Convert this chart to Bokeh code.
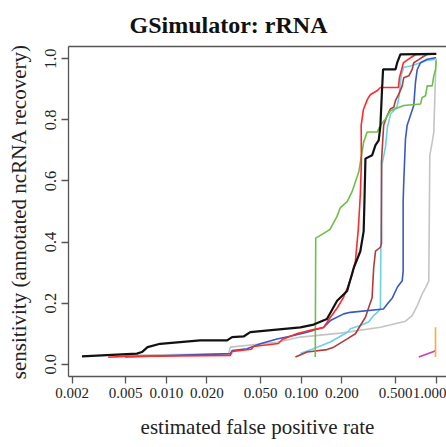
from bokeh.plotting import figure
from bokeh.models import Range1d, FixedTicker, LinearAxis, Title
from bokeh.embed import file_html
from bokeh.resources import INLINE

# ---- data (estimated false positive rate, sensitivity) ----
black_x = [0.00237, 0.00605, 0.00659, 0.00726, 0.0090, 0.0178, 0.0282, 0.0307, 0.0374, 0.0419,
           0.0985, 0.1236, 0.155, 0.1844, 0.2187, 0.245, 0.274, 0.290, 0.294, 0.299, 0.335,
           0.355, 0.375, 0.386, 0.397, 0.404, 0.499, 0.514, 0.543, 1.0]
black_y = [0.026, 0.035, 0.040, 0.056, 0.067, 0.078, 0.078, 0.089, 0.091, 0.105,
           0.121, 0.130, 0.148, 0.208, 0.240, 0.316, 0.370, 0.435, 0.532, 0.673, 0.684,
           0.717, 0.733, 0.781, 0.900, 0.965, 0.965, 0.987, 1.014, 1.016]

red_x = [0.00371, 0.00488, 0.0298, 0.0308, 0.0427, 0.0442, 0.0677, 0.0724, 0.0935, 0.123,
         0.146, 0.164, 0.185, 0.205, 0.220, 0.239, 0.252, 0.265, 0.274, 0.279, 0.278, 0.289,
         0.309, 0.326, 0.367, 0.386, 0.525, 0.534, 0.572, 0.644, 0.702, 1.0]
red_y = [0.023, 0.026, 0.029, 0.042, 0.049, 0.058, 0.068, 0.081, 0.101, 0.114,
         0.120, 0.153, 0.185, 0.218, 0.250, 0.295, 0.338, 0.445, 0.555, 0.662, 0.782, 0.834,
         0.867, 0.883, 0.896, 0.906, 0.906, 0.938, 0.987, 1.003, 1.013, 1.016]

brown_x = [0.0905, 0.1105, 0.155, 0.174, 0.219, 0.252, 0.274, 0.299, 0.316, 0.335, 0.344,
           0.355, 0.386, 0.393, 0.393, 0.408, 0.433, 0.458, 0.485, 0.499, 0.528, 0.560,
           0.575, 0.627, 0.664, 0.682, 0.743, 0.809, 0.857, 1.0]
brown_y = [0.024, 0.040, 0.048, 0.056, 0.083, 0.100, 0.127, 0.154, 0.186, 0.218, 0.315,
           0.370, 0.383, 0.396, 0.662, 0.782, 0.814, 0.836, 0.841, 0.863, 0.884, 0.911,
           0.938, 0.944, 0.965, 0.987, 0.997, 1.008, 1.014, 1.016]

blue_x = [0.00495, 0.0298, 0.0307, 0.0396, 0.0497, 0.0661, 0.0878, 0.1104, 0.1466, 0.1644,
          0.2064, 0.2314, 0.4065, 0.4355, 0.4743, 0.5164, 0.5598, 0.569, 0.569, 0.575, 0.592,
          0.609, 0.645, 0.682, 0.702, 0.723, 0.765, 0.858, 0.988, 1.0]
blue_y = [0.024, 0.035, 0.045, 0.051, 0.067, 0.083, 0.094, 0.105, 0.121, 0.143,
          0.165, 0.170, 0.181, 0.198, 0.218, 0.253, 0.273, 0.305, 0.532, 0.597, 0.737,
          0.782, 0.815, 0.847, 0.922, 0.964, 0.987, 0.998, 1.003, 1.003]

cyan_x = [0.0985, 0.123, 0.164, 0.220, 0.231, 0.274, 0.315, 0.343, 0.367, 0.386, 0.389,
          0.396, 0.421, 0.435, 0.458, 0.514, 0.534, 0.543, 0.550, 0.575, 0.644, 0.765,
          0.857, 0.988]
cyan_y = [0.035, 0.051, 0.073, 0.105, 0.116, 0.127, 0.138, 0.159, 0.170, 0.181, 0.393,
          0.652, 0.711, 0.776, 0.818, 0.844, 0.883, 0.922, 0.945, 0.972, 0.976, 0.987,
          0.995, 0.998]

green_x = [0.127, 0.128, 0.155, 0.164, 0.184, 0.195, 0.219, 0.238, 0.252, 0.267, 0.290,
           0.308, 0.365, 0.386, 0.421, 0.458, 0.499, 0.575, 0.765, 0.787, 0.834, 0.858,
           0.934, 0.960, 0.988, 1.0]
green_y = [0.024, 0.413, 0.435, 0.442, 0.484, 0.513, 0.532, 0.565, 0.597, 0.630, 0.727,
           0.760, 0.760, 0.782, 0.803, 0.830, 0.836, 0.847, 0.852, 0.873, 0.879, 0.911,
           0.911, 0.944, 0.965, 0.994]

gray_x = [0.00495, 0.0288, 0.0298, 0.0661, 0.0985, 0.195, 0.386, 0.592, 0.664, 0.723,
          0.787, 0.834, 0.881, 0.897, 0.934, 0.960, 0.988, 1.0]
gray_y = [0.029, 0.034, 0.056, 0.072, 0.089, 0.102, 0.121, 0.141, 0.159, 0.191,
          0.230, 0.251, 0.272, 0.684, 0.727, 0.760, 0.944, 1.0]

magenta_x = [0.743, 0.960, 0.988]
magenta_y = [0.024, 0.042, 0.045]

orange_x = [0.988, 0.988]
orange_y = [0.024, 0.121]

x_ticks = [0.002, 0.005, 0.01, 0.02, 0.05, 0.1, 0.2, 0.5, 1.0]
x_tick_labels = ["0.002", "0.005", "0.010", "0.020", "0.050", "0.100", "0.200", "0.500", "1.000"]
y_ticks = [0.0, 0.2, 0.4, 0.6, 0.8, 1.0]
y_tick_labels = ["0.0", "0.2", "0.4", "0.6", "0.8", "1.0"]

SERIF = "Liberation Serif"
AXC = "#555555"

p = figure(width=446, height=447, x_axis_type="log",
           x_range=Range1d(10 ** -2.725, 10 ** 0.0764), y_range=Range1d(-0.04, 1.04),
           output_backend="svg", toolbar_location=None,
           min_border_left=68, min_border_right=0, min_border_top=44, min_border_bottom=71)
p.outline_line_color = None
p.grid.visible = False
p.background_fill_color = "white"
p.border_fill_color = "white"

p.title = Title(text="GSimulator: rRNA", align="left", offset=61,
                text_font=SERIF, text_font_size="24px", text_font_style="bold",
                text_color="#111111", standoff=18)

xa = p.below[0]
ya = p.left[0]

top = LinearAxis(ticker=FixedTicker(ticks=[]), axis_line_color=AXC, axis_line_width=1.3,
                 major_tick_out=0, major_tick_in=0, major_label_text_font_size="0px",
                 major_label_standoff=0, minor_tick_line_color=None)
p.add_layout(top, "above")

xa.ticker = FixedTicker(ticks=x_ticks)
xa.major_label_overrides = {t: l for t, l in zip(x_ticks, x_tick_labels)}
xa.axis_label = "estimated false positive rate"

ya.ticker = FixedTicker(ticks=y_ticks)
ya.major_label_overrides = {t: l for t, l in zip(y_ticks, y_tick_labels)}
ya.axis_label = "sensitivity (annotated ncRNA recovery)"
ya.major_label_orientation = "vertical"

for ax in (xa, ya):
    ax.axis_line_color = AXC
    ax.axis_line_width = 1.3
    ax.major_tick_line_color = AXC
    ax.major_tick_line_width = 1.3
    ax.major_tick_out = 7
    ax.major_tick_in = 0
    ax.minor_tick_line_color = None
    ax.major_label_text_font = SERIF
    ax.major_label_text_color = "#222222"
    ax.axis_label_text_font = SERIF
    ax.axis_label_text_font_size = "21px"
    ax.axis_label_text_font_style = "normal"
    ax.axis_label_text_color = "#222222"
xa.major_label_text_font_size = "15px"
ya.major_label_text_font_size = "16.5px"
xa.major_label_standoff = 4
xa.axis_label_standoff = 14
ya.major_label_standoff = 5
ya.axis_label_standoff = 12

series = [
    (gray_x, gray_y, "#c4c4c4", 1.6),
    (cyan_x, cyan_y, "#6cd0e8", 1.6),
    (brown_x, brown_y, "#b33a3a", 1.6),
    (blue_x, blue_y, "#3a58c4", 1.6),
    (green_x, green_y, "#6cc04a", 1.6),
    (red_x, red_y, "#ff2a2a", 1.6),
    (magenta_x, magenta_y, "#c040b8", 1.6),
    (orange_x, orange_y, "#ffaa30", 1.6),
    (black_x, black_y, "#111111", 2.2),
]
for xs, ys, c, w in series:
    p.line(xs, ys, line_color=c, line_width=w)

open("out.html", "w").write(file_html(p, INLINE))
